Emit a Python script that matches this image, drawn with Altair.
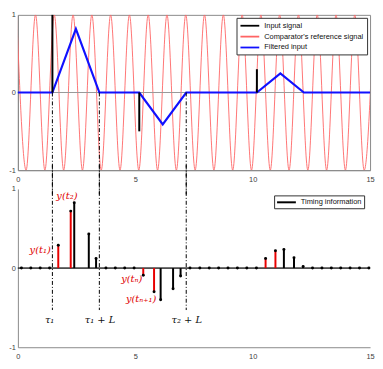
import altair as alt
import pandas as pd

# ---------------- data ----------------
# comparator reference signal: positions of its extrema (peaks / troughs)
wave_x = [-0.05, 0.35, 0.75, 1.15, 1.55, 1.95, 2.35, 2.75, 3.15, 3.55,
          3.95, 4.35, 4.75, 5.15, 5.55, 5.95, 6.35, 6.75, 7.15, 7.55,
          7.95, 8.35, 8.75, 9.15, 9.55, 9.95, 10.35, 10.75, 11.15, 11.55,
          11.95, 12.35, 12.75, 13.15, 13.55, 13.95, 14.35, 14.75, 15.15]
wave_y = [1, -1, 1, -1, 1, -1, 1, -1, 1, -1,
          1, -1, 1, -1, 1, -1, 1, -1, 1, -1,
          1, -1, 1, -1, 1, -1, 1, -1, 1, -1,
          1, -1, 1, -1, 1, -1, 1, -1, 1]

# filtered input (triangles)
filt_x = [0, 1.47, 2.47, 3.47, 5.17, 6.17, 7.17, 10.18, 11.18, 12.18, 15]
filt_y = [0, 0, 0.82, 0, 0, -0.41, 0, 0, 0.245, 0, 0]

# input impulses
inp_x = [1.47, 5.17, 10.18]
inp_y = [1.0, -0.5, 0.3]

# timing marker lines (tau1, tau1+L, tau2+L)
tau_x = [1.47, 3.47, 7.17]

# timing information stems
stem_t = [0.15, 0.55, 0.95, 1.35, 1.72, 2.25, 2.40, 3.02, 3.33, 3.75,
          4.15, 4.55, 4.95, 5.34, 5.80, 6.08, 6.61, 6.93, 7.33, 7.75,
          8.15, 8.55, 8.95, 9.35, 9.75, 10.16, 10.55, 10.97, 11.33, 11.76,
          12.15, 12.55, 12.95, 13.35, 13.75, 14.15, 14.55, 14.95]
stem_y = [0, 0, 0, 0, 0.29, 0.72, 0.825, 0.43, 0.12, 0,
          0, 0, 0, -0.09, -0.30, -0.40, -0.26, -0.10, 0, 0,
          0, 0, 0, 0, 0, 0, 0.12, 0.22, 0.235, 0.13,
          0.02, 0, 0, 0, 0, 0, 0, 0]
stem_red = [False, False, False, False, True, True, False, False, False, False,
            False, False, False, True, True, False, False, False, False, False,
            False, False, False, False, False, False, True, True, False, False,
            False, False, False, False, False, False, False, False]

series_names = ["Input signal", "Comparator's reference signal", "Filtered input"]
series_colors = ["#000000", "#ff6464", "#1010ff"]

stem_names = ["Timing information", "highlight"]
stem_colors = ["#000000", "#e80000"]

ann_text = ["y(t\u2081)", "y(t\u2082)", "y(t\u2099)", "y(t\u2099\u208A\u2081)"]
ann_x = [0.95, 2.09, 4.85, 5.25]
ann_y = [0.23, 0.91, -0.14, -0.39]

tau_text = ["\u03C4\u2081", "\u03C4\u2081 + L", "\u03C4\u2082 + L"]
tau_lab_x = [1.35, 3.5, 7.19]
tau_lab_y = [-0.65, -0.65, -0.65]

x_ticks = [0, 5, 10, 15]
y_ticks = [-1, -0.5, 0, 0.5, 1]

# ---------------- tables ----------------
wave_df = pd.DataFrame({"x": wave_x, "y": wave_y, "series": series_names[1]})
filt_df = pd.DataFrame({"x": filt_x, "y": filt_y, "series": series_names[2]})
inp_df = pd.DataFrame({"x": inp_x, "y": inp_y, "series": series_names[0]})
tau_df = pd.DataFrame({"x": tau_x})
stem_df = pd.DataFrame({"t": stem_t, "y": stem_y,
                        "kind": [stem_names[1] if r else stem_names[0] for r in stem_red]})
ann_df = pd.DataFrame({"x": ann_x, "y": ann_y, "text": ann_text})
tau_lab_df = pd.DataFrame({"x": tau_lab_x, "y": tau_lab_y, "text": tau_text})

# ---------------- styling helpers ----------------
LABEL_FONT = "Liberation Sans"
MATH_FONT = "DejaVu Serif"
AX_COL = "#8a8a8a"
LAB_COL = "#404040"

xs = alt.Scale(domain=[0, 15], nice=False, zero=False)
ys = alt.Scale(domain=[-1, 1], nice=False, zero=False)


def x_axis():
    return alt.Axis(values=x_ticks, title=None, grid=False, ticks=False,
                    labelPadding=5, labelFlush=False, domainColor=AX_COL,
                    labelColor=LAB_COL, labelFont=LABEL_FONT, labelFontSize=7.5)


def y_axis():
    return alt.Axis(values=y_ticks, title=None, grid=False, ticks=False,
                    labelPadding=2.5, domainColor=AX_COL, labelColor=LAB_COL,
                    labelFont=LABEL_FONT, labelFontSize=7.5,
                    labelExpr="datum.value + ''")


W = 356
H_TOP = 157
H_BOT = 160
GAP = 19

top_legend = alt.Legend(
    title=None, orient="none", legendX=W - 4 - 131, legendY=3,
    labelFont=LABEL_FONT, labelFontSize=7.5, labelColor="#111",
    symbolType="M-1,0H3.75", symbolSize=64, labelOffset=15,
    symbolStrokeWidth=1.8,
    padding=3, rowPadding=2, strokeColor="#333",
    fillColor="white", cornerRadius=0)

color_enc = alt.Color("series:N",
                      scale=alt.Scale(domain=series_names, range=series_colors),
                      legend=top_legend)

X = alt.X("x:Q", scale=xs, axis=x_axis())
Y = alt.Y("y:Q", scale=ys, axis=y_axis())

wave = alt.Chart(wave_df).mark_line(interpolate="monotone", clip=True,
                                    strokeWidth=0.9).encode(
    x=X, y=Y, color=color_enc)

zero_top = alt.Chart(tau_df).mark_rule(color="#9a9a9a", strokeWidth=1).encode(
    y=alt.datum(0, scale=ys))

filt = alt.Chart(filt_df).mark_line(strokeWidth=2.2).encode(
    x=X, y=Y, color=color_enc)

spikes = alt.Chart(inp_df).mark_rule(strokeWidth=2).encode(
    x=X, y=Y, y2=alt.datum(0), color=color_enc)

tau_top = alt.Chart(tau_df).mark_rule(color="#000", strokeWidth=1,
                                       strokeDash=[4, 2, 1, 2]).encode(
    x=alt.X("x:Q", scale=xs), y=alt.datum(0), y2=alt.datum(-1.32))

top = alt.layer(wave, zero_top, filt, spikes, tau_top).properties(
    width=W, height=H_TOP,
    view=alt.ViewBackground(stroke=AX_COL, strokeWidth=1))

# ---------------- bottom panel ----------------
bot_legend = alt.Legend(
    title=None, orient="none", legendX=W - 7 - 90, legendY=6.5,
    values=["Timing information"],
    labelFont=LABEL_FONT, labelFontSize=7.5, labelColor="#111",
    symbolType="M-1,0H3.75", symbolSize=64, labelOffset=15,
    symbolStrokeWidth=2,
    padding=2, strokeColor="#333", fillColor="white", cornerRadius=0)

Xb = alt.X("t:Q", scale=xs, axis=x_axis())
Yb = alt.Y("y:Q", scale=ys, axis=y_axis())

baseline = alt.Chart(tau_df).mark_rule(color="#333", strokeWidth=0.8).encode(
    y=alt.datum(0, scale=ys))

stems = alt.Chart(stem_df).mark_rule(strokeWidth=2).encode(
    x=Xb, y=Yb, y2=alt.datum(0),
    color=alt.Color("kind:N", scale=alt.Scale(domain=stem_names, range=stem_colors),
                    legend=bot_legend))

dots = alt.Chart(stem_df).mark_point(filled=True, size=9, color="#000", opacity=1).encode(
    x=Xb, y=Yb)

tau_bot = alt.Chart(tau_df).mark_rule(color="#000", strokeWidth=1,
                                       strokeDash=[4, 2, 1, 2]).encode(
    x=alt.X("x:Q", scale=xs), y=alt.datum(1.3), y2=alt.datum(-0.53))

ann = alt.Chart(ann_df).mark_text(font=MATH_FONT, fontStyle="italic",
                                  fontSize=10, color="#e00000").encode(
    x=alt.X("x:Q", scale=xs), y=alt.Y("y:Q", scale=ys), text="text:N")

tau_lab = alt.Chart(tau_lab_df).mark_text(font=MATH_FONT, fontStyle="italic",
                                          fontSize=10, color="#111").encode(
    x=alt.X("x:Q", scale=xs), y=alt.Y("y:Q", scale=ys), text="text:N")

bottom = alt.layer(baseline, stems, dots, tau_bot, ann, tau_lab).properties(
    width=W, height=H_BOT,
    view=alt.ViewBackground(stroke="transparent"))

chart = alt.VConcatChart(vconcat=[top, bottom], spacing=GAP, bounds="flush",
                         padding=0, background="white").resolve_scale(
    color="independent").resolve_legend(color="independent")

chart.save("out.html", embed_options={"renderer": "svg", "actions": False})
